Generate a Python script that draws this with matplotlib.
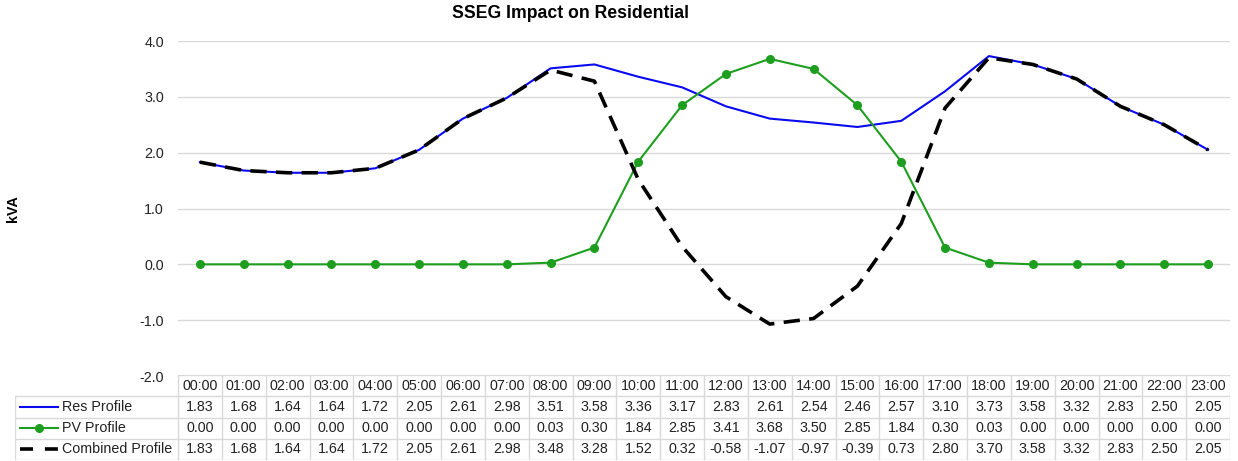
import matplotlib.pyplot as plt
import numpy as np

plt.rcParams['font.family'] = ['Liberation Sans', 'DejaVu Sans']

hours = ['%02d:00' % h for h in range(24)]
res_profile = [1.83, 1.68, 1.64, 1.64, 1.72, 2.05, 2.61, 2.98, 3.51, 3.58, 3.36, 3.17,
               2.83, 2.61, 2.54, 2.46, 2.57, 3.10, 3.73, 3.58, 3.32, 2.83, 2.50, 2.05]
pv_profile = [0.00, 0.00, 0.00, 0.00, 0.00, 0.00, 0.00, 0.00, 0.03, 0.30, 1.84, 2.85,
              3.41, 3.68, 3.50, 2.85, 1.84, 0.30, 0.03, 0.00, 0.00, 0.00, 0.00, 0.00]
combined = [1.83, 1.68, 1.64, 1.64, 1.72, 2.05, 2.61, 2.98, 3.48, 3.28, 1.52, 0.32,
            -0.58, -1.07, -0.97, -0.39, 0.73, 2.80, 3.70, 3.58, 3.32, 2.83, 2.50, 2.05]

blue = '#0a0af0'
green = '#1e9e1e'
grid_col = '#d9d9d9'
dash = (0, (4.5, 2.6))
fs = 10.3

W, H = 1238, 461
fig = plt.figure(figsize=(W / 100, H / 100), dpi=100)

# main plot area (pixel box)
x0, x1, ytop, ybot = 178, 1230, 41, 376
ax = fig.add_axes([x0 / W, 1 - ybot / H, (x1 - x0) / W, (ybot - ytop) / H])
x = np.arange(len(hours))
ax.plot(x, res_profile, color=blue, lw=1.5, label='Res Profile')
ax.plot(x, pv_profile, color=green, lw=1.5, marker='o', ms=5.5, label='PV Profile')
ax.plot(x, combined, color='black', lw=2.6, ls=dash, label='Combined Profile')
ax.set_xlim(-0.5, 23.5)
ax.set_ylim(-2.0, 4.0)
ax.set_yticks(np.arange(-2, 4.01, 1.0))
ax.set_yticklabels(['%.1f' % v for v in np.arange(-2, 4.01, 1.0)], fontsize=fs, color='#222222')
ax.set_xticks([])
ax.grid(axis='y', color=grid_col, lw=1)
ax.set_axisbelow(True)
ax.tick_params(axis='y', length=0, pad=10)
for s in ax.spines.values():
    s.set_visible(False)
ax.set_ylabel('kVA', fontsize=fs, fontweight='bold')
ax.yaxis.set_label_coords(-(x0 - 20) / (x1 - x0), 0.5)
fig.text(570 / W, 1 - 14 / H, 'SSEG Impact on Residential', fontsize=12.7,
         fontweight='bold', ha='center', va='center')

# data table below
tx0, ty0, ty1 = 15, 375, 460
tax = fig.add_axes([tx0 / W, 1 - ty1 / H, (x1 - tx0) / W, (ty1 - ty0) / H])
colw = (x1 - x0) / 24
left = -0.5 - (x0 - tx0) / colw
tax.set_xlim(left, 23.5)
tax.set_ylim(4, 0)
tax.axis('off')

rows = [('Res Profile', res_profile), ('PV Profile', pv_profile), ('Combined Profile', combined)]
lc = dict(color=grid_col, lw=1)
# header grid
tax.plot([-0.5, 23.5], [0, 0], **lc)
for i in range(25):
    tax.plot([i - 0.5, i - 0.5], [0, 4], **lc)
for r in range(1, 5):
    tax.plot([left, 23.5], [r, r], **lc)
tax.plot([left, left], [1, 4], **lc)
for i, h in enumerate(hours):
    tax.text(i, 0.5, h, ha='center', va='center', fontsize=fs, color='#222222')
for r, (name, vals) in enumerate(rows):
    yc = r + 1.5
    for i, v in enumerate(vals):
        tax.text(i, yc, '%.2f' % v, ha='center', va='center', fontsize=fs, color='#222222')
    tax.text(left + 47 / colw, yc, name, ha='left', va='center', fontsize=fs, color='#222222')
kx = [left + 5 / colw, left + 43 / colw]
tax.plot(kx, [1.5, 1.5], color=blue, lw=1.5)
tax.plot(kx, [2.5, 2.5], color=green, lw=1.5)
tax.plot([np.mean(kx)], [2.5], color=green, marker='o', ms=5.5)
tax.plot(kx, [3.5, 3.5], color='black', lw=2.6, ls=(0, (3.6, 3.3)))

fig.savefig('out.png', dpi=100)
